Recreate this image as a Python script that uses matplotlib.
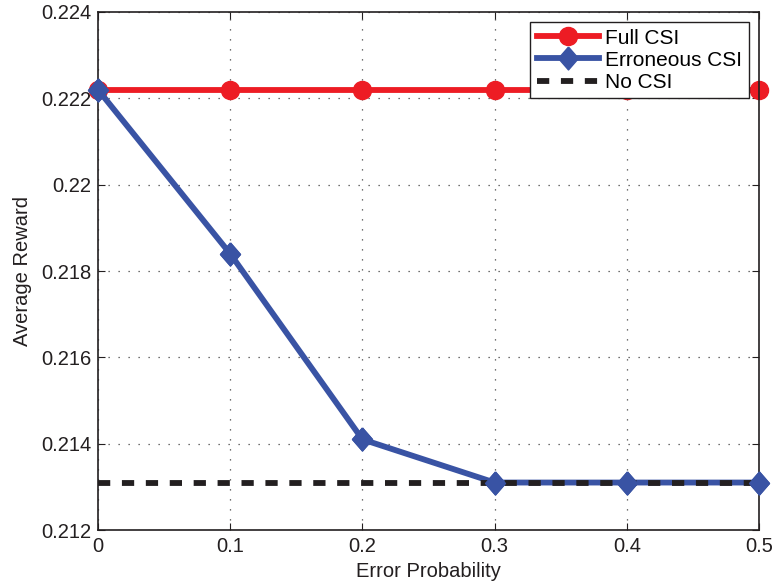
import matplotlib.pyplot as plt

plt.rcParams['font.family'] = ['Liberation Sans', 'DejaVu Sans']

error_prob = [0, 0.1, 0.2, 0.3, 0.4, 0.5]
full_csi = [0.2222, 0.2222, 0.2222, 0.2222, 0.2222, 0.2222]
erroneous_csi = [0.2222, 0.2184, 0.2141, 0.2131, 0.2131, 0.2131]
no_csi = [0.2131, 0.2131, 0.2131, 0.2131, 0.2131, 0.2131]

red = '#ed1c24'
blue = '#3953a4'
black = '#231f20'

# MATLAB-style diamond, a bit taller than wide
diamond = [(0, 1), (0.87, 0), (0, -1), (-0.87, 0), (0, 1)]

fig = plt.figure(figsize=(7.74, 5.88), dpi=100)
ax = fig.add_axes([0.1266, 0.0986, 0.854, 0.881])

ax.plot(error_prob, full_csi, color=red, linewidth=4.2, marker='o',
        markersize=13, label='Full CSI', clip_on=False, zorder=2)
ax.plot(error_prob, erroneous_csi, color=blue, linewidth=4.2, marker=diamond,
        markersize=16.5, label='Erroneous CSI', clip_on=False, zorder=3)
ax.plot(error_prob, no_csi, color=black, linewidth=4.2, linestyle=(0, (2.1, 2.0)),
        label='No CSI', zorder=4)
# diamonds again so they sit above the dashed line
ax.plot(error_prob, erroneous_csi, color=blue, linestyle='none', marker=diamond,
        markersize=16.5, clip_on=False, zorder=5)

ax.set_xlim(0, 0.5)
ax.set_ylim(0.212, 0.224)
ax.set_xticks([0, 0.1, 0.2, 0.3, 0.4, 0.5])
ax.set_xticklabels(['0', '0.1', '0.2', '0.3', '0.4', '0.5'])
ax.set_yticks([0.212, 0.214, 0.216, 0.218, 0.22, 0.222, 0.224])
ax.set_yticklabels(['0.212', '0.214', '0.216', '0.218', '0.22', '0.222', '0.224'])
ax.tick_params(direction='in', labelsize=14.5, colors=black, length=5,
               top=True, right=True, pad=5)
ax.grid(True, linestyle=(0, (1, 7)), color='#444444', linewidth=0.9)
for s in ax.spines.values():
    s.set_linewidth(1.2)
    s.set_color(black)

ax.set_xlabel('Error Probability', fontsize=14.5, color=black, labelpad=4)
ax.set_ylabel('Average Reward', fontsize=14.5, color=black, labelpad=6)

leg = ax.legend(loc='upper right', fontsize=15, fancybox=False, framealpha=1,
                edgecolor=black, handlelength=3.0, borderpad=0.3,
                labelspacing=0.15, handletextpad=0.3, borderaxespad=0.5)
leg.get_frame().set_linewidth(1.0)
leg.set_zorder(6)

plt.savefig('out.png', dpi=100)
